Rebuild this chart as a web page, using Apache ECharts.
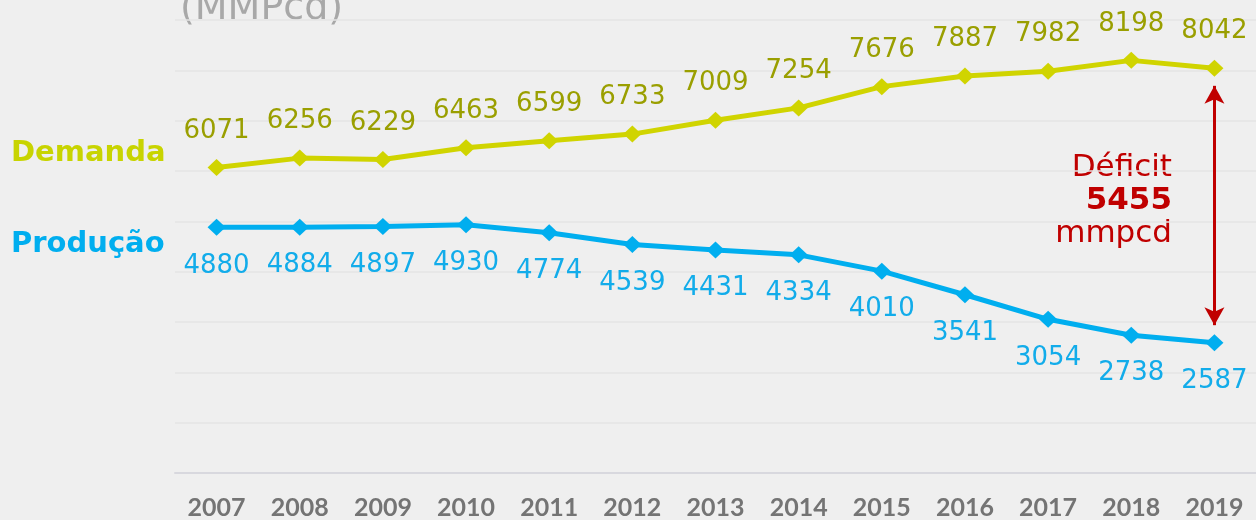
<!DOCTYPE html>
<html>
<head>
<meta charset="utf-8">
<script src="https://cdn.jsdelivr.net/npm/echarts@6/dist/echarts.min.js"></script>
<style>
html,body{margin:0;padding:0;background:#efefef;}
#chart{width:1256px;height:520px;}
</style>
</head>
<body>
<div id="chart"></div>
<script>
const years = ['2007','2008','2009','2010','2011','2012','2013','2014','2015','2016','2017','2018','2019'];
const demanda = [6071,6256,6229,6463,6599,6733,7009,7254,7676,7887,7982,8198,8042];
const producao = [4880,4884,4897,4930,4774,4539,4431,4334,4010,3541,3054,2738,2587];
const deficitValue = 5455;
const unitTitle = '(MMPcd)';
const demandaName = 'Demanda';
const producaoName = 'Produção';

const last = years.length - 1;
const arrowInset = 350;

const chart = echarts.init(document.getElementById('chart'));
chart.setOption({
  backgroundColor: '#efefef',
  animation: false,
  grid: {left: 175, right: 0, top: 20, bottom: 47, containLabel: false},
  xAxis: {
    type: 'category',
    data: years,
    boundaryGap: true,
    axisLine: {show: true, lineStyle: {color: '#d8d8de', width: 2}},
    axisTick: {show: false},
    axisLabel: {margin: 22, color: '#747474', fontFamily: 'Lato', fontWeight: 'bold', fontSize: 25}
  },
  yAxis: {
    type: 'value', min: 0, max: 9000, interval: 1000,
    axisLabel: {show: false}, axisLine: {show: false}, axisTick: {show: false},
    splitLine: {lineStyle: {color: '#e4e4e4', width: 1.5}}
  },
  graphic: [
    {type: 'text', left: 180, top: -10, style: {text: unitTitle, fill: '#a8a8a8', font: '38px "DejaVu Sans"'}},
    {type: 'text', left: 11, top: 139, style: {text: demandaName, fill: '#c8d400', font: 'bold 29px "DejaVu Sans"'}},
    {type: 'text', left: 11, top: 230, style: {text: producaoName, fill: '#00aeef', font: 'bold 29px "DejaVu Sans"'}},
    {type: 'text', right: 84, top: 152, style: {
      text: '{a|Déficit}\n{b|' + deficitValue + '}\n{a|mmpcd}', align: 'right',
      rich: {
        a: {fill: '#c00000', font: '31px "DejaVu Sans"', lineHeight: 33, align: 'right'},
        b: {fill: '#c00000', font: 'bold 31px "DejaVu Sans"', lineHeight: 33, align: 'right'}
      }
    }}
  ],
  series: [
    {
      name: demandaName, type: 'line', data: demanda,
      symbol: 'diamond', symbolSize: [18, 17],
      lineStyle: {color: '#d0d400', width: 5},
      itemStyle: {color: '#d0d400'},
      label: {show: true, position: 'top', distance: 15, color: '#9a9f00', fontFamily: 'DejaVu Sans', fontSize: 26}
    },
    {
      name: producaoName, type: 'line', data: producao,
      symbol: 'diamond', symbolSize: [18, 17],
      lineStyle: {color: '#00aeef', width: 5},
      itemStyle: {color: '#00aeef'},
      label: {show: true, position: 'bottom', distance: 17, color: '#12acea', fontFamily: 'DejaVu Sans', fontSize: 26},
      markLine: {
        silent: true,
        symbol: ['arrow', 'arrow'],
        symbolSize: [15, 18],
        lineStyle: {color: '#c00000', width: 3, type: 'solid'},
        label: {show: false},
        data: [[
          {coord: [years[last], demanda[last] - arrowInset]},
          {coord: [years[last], producao[last] + arrowInset]}
        ]]
      }
    }
  ]
});
</script>
</body>
</html>
